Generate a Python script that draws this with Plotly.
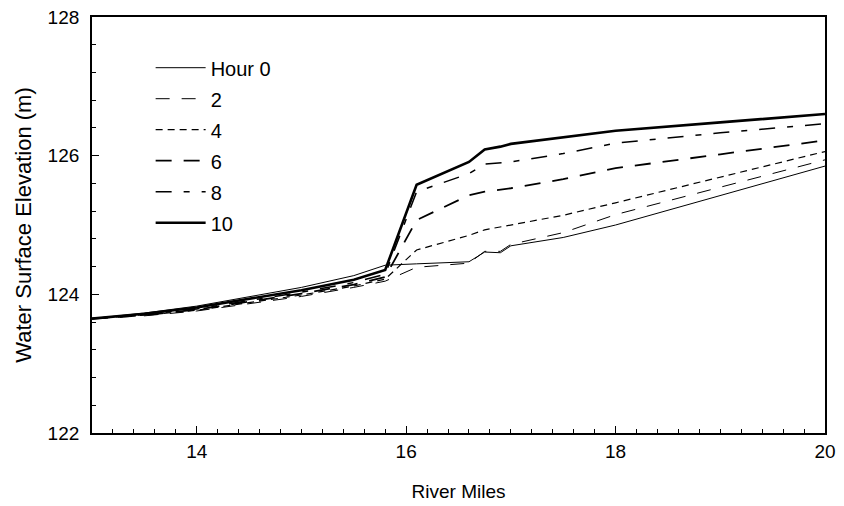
import plotly.graph_objects as go

# River miles (shared x positions)
river_miles = [13.0, 13.5, 14.0, 14.5, 15.0, 15.5, 15.8, 16.1, 16.6, 16.75, 16.9, 17.0, 17.5, 18.0, 19.0, 20.0]

# Water surface elevation (m) for each hour
hour_0 = [123.65, 123.73, 123.83, 123.96, 124.10, 124.27, 124.42, 124.44, 124.47, 124.61, 124.60, 124.70, 124.82, 125.00, 125.42, 125.85]
hour_2 = [123.65, 123.69, 123.76, 123.86, 123.97, 124.10, 124.19, 124.39, 124.45, 124.62, 124.62, 124.72, 124.89, 125.15, 125.54, 125.94]
hour_4 = [123.65, 123.70, 123.77, 123.88, 123.99, 124.12, 124.22, 124.64, 124.85, 124.93, 124.97, 125.00, 125.14, 125.32, 125.69, 126.06]
hour_6 = [123.65, 123.70, 123.78, 123.89, 124.01, 124.14, 124.25, 125.07, 125.43, 125.48, 125.51, 125.53, 125.66, 125.82, 126.02, 126.22]
hour_8 = [123.65, 123.71, 123.79, 123.91, 124.03, 124.17, 124.29, 125.48, 125.74, 125.88, 125.90, 125.91, 126.03, 126.18, 126.33, 126.46]
hour_10 = [123.65, 123.72, 123.81, 123.93, 124.06, 124.21, 124.35, 125.58, 125.91, 126.09, 126.13, 126.17, 126.27, 126.36, 126.48, 126.60]

series_names = ["Hour 0", "2", "4", "6", "8", "10"]
series_values = [hour_0, hour_2, hour_4, hour_6, hour_8, hour_10]

x_tick_vals = [14, 16, 18, 20]
y_tick_vals = [122, 124, 126, 128]

styles = [
    dict(width=1.0, dash="solid"),
    dict(width=1.0, dash="14px,12px"),
    dict(width=1.2, dash="7px,5px"),
    dict(width=1.8, dash="16px,12px"),
    dict(width=1.5, dash="16px,12px,6px,12px"),
    dict(width=2.6, dash="solid"),
]

fig = go.Figure()
for i, (name, vals) in enumerate(zip(series_names, series_values)):
    fig.add_trace(go.Scatter(
        x=river_miles, y=vals, mode="lines", name=name,
        legendgroup=f"g{i}",
        line=dict(color="black", width=styles[i]["width"], dash=styles[i]["dash"]),
    ))

font_family = "Liberation Sans, Arial, sans-serif"

fig.update_layout(
    width=844, height=506,
    margin=dict(l=92, r=19, t=17, b=73, autoexpand=False),
    paper_bgcolor="white", plot_bgcolor="white",
    font=dict(family=font_family, size=19, color="black"),
    showlegend=True,
    legend=dict(
        x=0.08, y=0.925, xanchor="left", yanchor="top",
        bgcolor="rgba(0,0,0,0)", borderwidth=0,
        font=dict(size=20, family=font_family),
        traceorder="grouped", tracegroupgap=2,
        itemwidth=50,
    ),
    xaxis=dict(
        range=[13, 20], tickvals=x_tick_vals, ticktext=[str(v) for v in x_tick_vals],
        ticks="inside", ticklen=7, tickwidth=1.2, tickcolor="black",
        showline=True, linecolor="black", linewidth=1.8, mirror=True,
        showgrid=False, zeroline=False, automargin=False,
        minor=dict(dtick=0.2, tick0=13, ticks="inside", ticklen=4, tickwidth=1, tickcolor="black", showgrid=False),
        title=dict(text="River Miles", font=dict(size=19), standoff=24),
        tickfont=dict(size=19),
    ),
    yaxis=dict(
        range=[122, 128], tickvals=y_tick_vals, ticktext=[str(v) for v in y_tick_vals],
        ticks="inside", ticklen=7, tickwidth=1.2, tickcolor="black",
        showline=True, linecolor="black", linewidth=1.8, mirror=True,
        showgrid=False, zeroline=False, ticklabelstandoff=7, automargin=False,
        minor=dict(dtick=0.4, tick0=122, ticks="inside", ticklen=4, tickwidth=1, tickcolor="black", showgrid=False),
        title=dict(text="Water Surface Elevation (m)", font=dict(size=22), standoff=10),
        tickfont=dict(size=19),
    ),
)

fig.write_html("out.html")
